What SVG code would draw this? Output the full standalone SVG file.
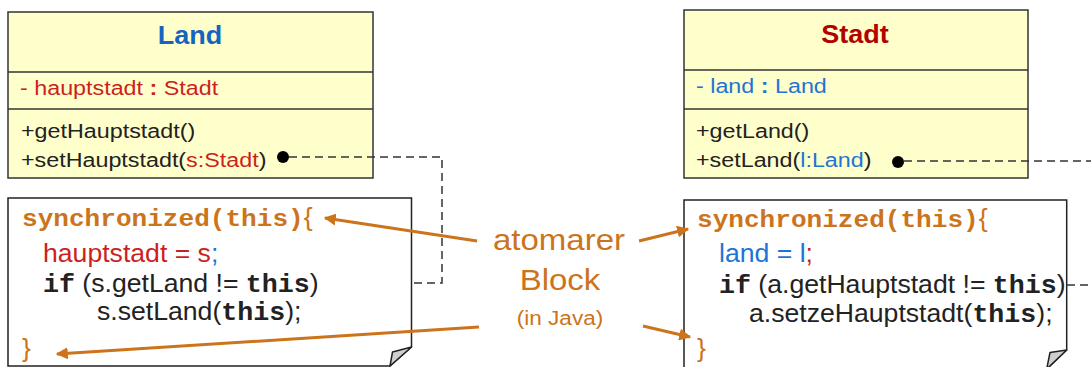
<svg xmlns="http://www.w3.org/2000/svg" width="1091" height="367" viewBox="0 0 1091 367">
<defs>
<marker id="ah" viewBox="0 0 10 10" refX="9" refY="5" markerWidth="4" markerHeight="4" orient="auto" markerUnits="strokeWidth">
<path d="M0,0 L10,5 L0,10 z" fill="#cc741c"/>
</marker>
</defs>
<style>
.box{fill:#ffffcc;stroke:#333;stroke-width:1.5}
.div{stroke:#333;stroke-width:1.5}
.note{fill:#fff;stroke:#222;stroke-width:1.5}
.fold{fill:#cfcfcf;stroke:#222;stroke-width:1.5;stroke-linejoin:round}
.sans{font-family:"Liberation Sans",Arial,sans-serif}
.mono{font-family:"Liberation Mono","Courier New",monospace;font-weight:bold}
.title{font-size:25px;font-weight:bold}
.uml{font-size:21px;fill:#222}
.code{font-size:25px;fill:#222}
.org{fill:#cc741c}
.red{fill:#cc1f1f}
.blue{fill:#1e74d4}
.dash{fill:none;stroke:#333;stroke-width:1.5;stroke-dasharray:8 5}
.arr{fill:none;stroke:#cc741c;stroke-width:3;marker-end:url(#ah)}
</style>
<g id="land">
<rect class="box" x="8" y="12" width="365" height="166"/>
<line class="div" x1="8" y1="72" x2="373" y2="72"/>
<line class="div" x1="8" y1="109" x2="373" y2="109"/>
<text class="sans title" transform="translate(190,44) scale(1.08,1)" text-anchor="middle" fill="#1565c0">Land</text>
<text class="sans uml red" transform="translate(20,95) scale(1.11,1)">- hauptstadt <tspan font-weight="bold">:</tspan> Stadt</text>
<text class="sans uml" transform="translate(21,138) scale(1.11,1)">+getHauptstadt()</text>
<text class="sans uml" transform="translate(21,167) scale(1.11,1)">+setHauptstadt(<tspan class="red">s:Stadt</tspan>)</text>
<circle cx="283" cy="157" r="6" fill="#000"/>
</g>
<g id="stadt">
<rect class="box" x="684" y="10" width="344" height="168"/>
<line class="div" x1="684" y1="70" x2="1028" y2="70"/>
<line class="div" x1="684" y1="109" x2="1028" y2="109"/>
<text class="sans title" transform="translate(855,43) scale(1.08,1)" text-anchor="middle" fill="#b30000">Stadt</text>
<text class="sans uml blue" transform="translate(696,93) scale(1.11,1)">- land <tspan font-weight="bold">:</tspan> Land</text>
<text class="sans uml" transform="translate(696,138) scale(1.11,1)">+getLand()</text>
<text class="sans uml" transform="translate(696,167) scale(1.11,1)">+setLand(<tspan class="blue">l:Land</tspan>)</text>
<circle cx="898" cy="162" r="6" fill="#000"/>
</g>
<g id="note-land">
<path class="note" d="M8,198 H411.5 V347 L390,366 H8 Z"/>
<path class="fold" d="M411.5,347 L392.5,352 L390,366 Z"/>
<text class="code" transform="translate(22,226) scale(1.065,1)"><tspan class="mono org" font-size="24.5">synchronized(this)</tspan><tspan class="sans org">{</tspan></text>
<text class="sans code" transform="translate(43,262) scale(1.065,1)"><tspan class="red">hauptstadt = s</tspan><tspan class="blue">;</tspan></text>
<text class="code" transform="translate(43,292) scale(1.065,1)"><tspan class="mono">if</tspan><tspan class="sans"> (s.getLand != </tspan><tspan class="mono">this</tspan><tspan class="sans">)</tspan></text>
<text class="code" transform="translate(97,320) scale(1.065,1)"><tspan class="sans">s.setLand(</tspan><tspan class="mono">this</tspan><tspan class="sans">);</tspan></text>
<text class="sans code org" transform="translate(22,357) scale(1.065,1)">}</text>
</g>
<g id="note-stadt">
<path class="note" d="M684,200 H1066.7 V350 L1046.7,369 H684 Z"/>
<path class="fold" d="M1066.7,350 L1050,352.5 L1046.7,369 Z"/>
<text class="code" transform="translate(697,227) scale(1.065,1)"><tspan class="mono org" font-size="24.5">synchronized(this)</tspan><tspan class="sans org">{</tspan></text>
<text class="sans code" transform="translate(719,262) scale(1.065,1)"><tspan class="blue">land = l</tspan><tspan class="red">;</tspan></text>
<text class="code" transform="translate(719,293) scale(1.065,1)"><tspan class="mono">if</tspan><tspan class="sans"> (a.getHauptstadt != </tspan><tspan class="mono">this</tspan><tspan class="sans">)</tspan></text>
<text class="code" transform="translate(749,322) scale(1.065,1)"><tspan class="sans">a.setzeHauptstadt(</tspan><tspan class="mono">this</tspan><tspan class="sans">);</tspan></text>
<text class="sans code org" transform="translate(697,357) scale(1.065,1)">}</text>
</g>
<g id="label">
<text class="sans org" transform="translate(559,250) scale(1.1,1)" font-size="30" text-anchor="middle">atomarer</text>
<text class="sans org" transform="translate(560,290) scale(1.1,1)" font-size="30" text-anchor="middle">Block</text>
<text class="sans org" transform="translate(560,325) scale(1.075,1)" font-size="21" text-anchor="middle">(in Java)</text>
</g>
<g id="connectors">
<polyline class="dash" points="289,157 442,157 442,283 412,283"/>
<line class="dash" x1="904" y1="161" x2="1091" y2="161"/>
<line class="dash" x1="1067" y1="285" x2="1091" y2="285"/>
<line class="arr" x1="477" y1="241" x2="325" y2="218"/>
<line class="arr" x1="479" y1="327" x2="57" y2="354"/>
<line class="arr" x1="639" y1="241" x2="688" y2="229"/>
<line class="arr" x1="643" y1="326" x2="690" y2="337"/>
</g>
</svg>
